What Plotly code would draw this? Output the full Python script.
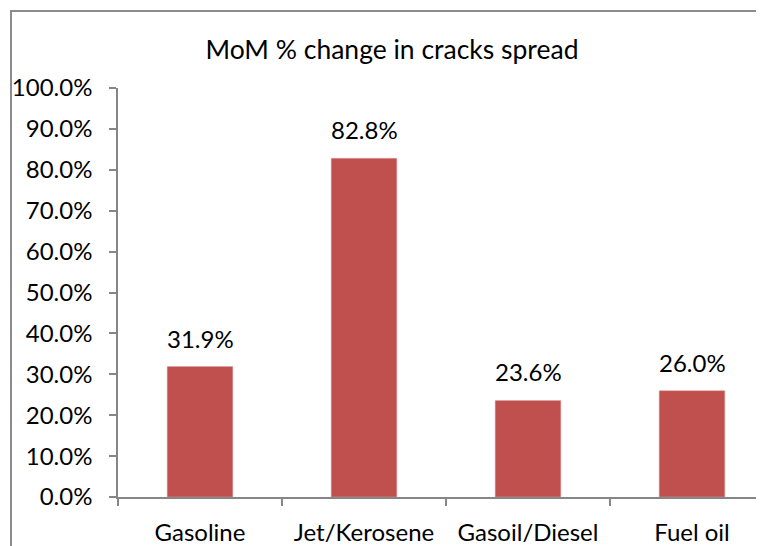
import plotly.graph_objects as go

categories = ["Gasoline", "Jet/Kerosene", "Gasoil/Diesel", "Fuel oil"]
values = [31.9, 82.8, 23.6, 26.0]
labels = ["31.9%", "82.8%", "23.6%", "26.0%"]
title_text = "MoM % change in cracks spread"

# the page body adds an 8px margin, so positions are offset by it
OFF = 8
W, H = 764, 546
L, T = 118 - OFF, 88 - OFF
R = 0
B = H - (497 - OFF)
plot_w = W - L - R
plot_h = H - T - B
FONT = "Lato, Carlito, Calibri, sans-serif"
BAR = "#C0504D"
AX = "#868686"

fig = go.Figure()
fig.add_trace(go.Bar(
    x=categories, y=values, width=0.4,
    marker=dict(color=BAR, line=dict(color="#D9A0A0", width=0.5)),
    hoverinfo="skip",
))

for c, v, t in zip(categories, values, labels):
    fig.add_annotation(x=c, y=v, text=t, showarrow=False, yanchor="bottom",
                       yshift=12, font=dict(size=24, color="#000000", family=FONT))

# chart-area border (extends beyond the right/bottom edges as in reference)
bx0 = (11 - OFF - L) / plot_w
by1 = 1 + (T - (11 - OFF)) / plot_h
fig.add_shape(type="rect", xref="paper", yref="paper", x0=bx0, x1=3, y0=-3, y1=by1,
              line=dict(color="#8C8C8C", width=2), fillcolor="rgba(0,0,0,0)", layer="above")

cat_px = 164
x_end = plot_w / cat_px - 0.5

fig.update_layout(
    width=W, height=H,
    margin=dict(l=L, r=R, t=T, b=B, pad=0),
    paper_bgcolor="white", plot_bgcolor="white",
    showlegend=False,
    font=dict(family=FONT, size=24, color="#000000"),
    title=dict(text=title_text, x=(392 - OFF) / W, xanchor="center", xref="container",
               y=1 - (50 - OFF) / H, yanchor="middle", yref="container",
               font=dict(size=26.5, family=FONT, color="#000000")),
    xaxis=dict(range=[-0.5, x_end], showgrid=False,
               showline=True, linecolor=AX, linewidth=1.5,
               ticks="outside", tickson="boundaries", ticklen=7, tickcolor=AX, tickwidth=1.5,
               ticklabelstandoff=13, tickfont=dict(size=24, family=FONT)),
    yaxis=dict(range=[0, 100], dtick=10, tickformat=".1f", ticksuffix="%",
               showgrid=False, zeroline=False, showline=True, linecolor=AX, linewidth=1.5,
               ticks="outside", ticklen=7, tickcolor=AX, tickwidth=1.5,
               ticklabelstandoff=12, tickfont=dict(size=24, family=FONT)),
)

fig.write_html("out.html")
